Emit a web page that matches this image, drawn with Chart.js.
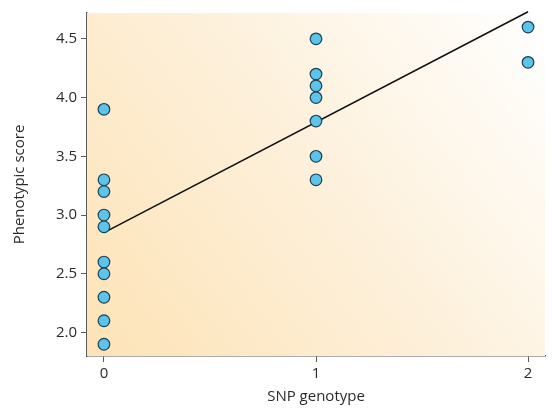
<!DOCTYPE html>
<html>
<head>
<meta charset="utf-8">
<script src="https://cdn.jsdelivr.net/npm/chart.js@4"></script>
<style>
	html, body { margin: 0; padding: 0; background: #fff; }
	#wrap { width: 552px; height: 410px; }
</style>
</head>
<body>
<div id="wrap"><canvas id="chart"></canvas></div>
<script>
const genotypes = [0, 0, 0, 0, 0, 0, 0, 0, 0, 0, 1, 1, 1, 1, 1, 1, 1, 2, 2];
const scores = [3.9, 3.3, 3.2, 3.0, 2.9, 2.6, 2.5, 2.3, 2.1, 1.9, 4.5, 4.2, 4.1, 4.0, 3.8, 3.5, 3.3, 4.6, 4.3];
const fitX = [0, 2];
const fitY = [2.85, 4.73];
const xTicks = [0, 1, 2];
const yTicks = [2.0, 2.5, 3.0, 3.5, 4.0, 4.5];

const axisColor = '#5a5a5a';
const textColor = '#2b2b2b';
const fontFamily = '"Open Sans", "Noto Sans", sans-serif';

const backgroundPlugin = {
	id: 'areaBackground',
	beforeDatasetsDraw(chart) {
		const { ctx, chartArea } = chart;
		const { left, top, right, bottom } = chartArea;
		const grad = ctx.createLinearGradient(left, bottom, right, top);
		grad.addColorStop(0, '#fde3b6');
		grad.addColorStop(0.5, '#fdf0da');
		grad.addColorStop(1, '#ffffff');
		ctx.save();
		ctx.fillStyle = grad;
		ctx.fillRect(left, top, right - left, bottom - top);
		ctx.restore();
	},
};

const points = genotypes.map((g, i) => ({ x: g, y: scores[i] }));
const fitLine = fitX.map((x, i) => ({ x, y: fitY[i] }));

new Chart(document.getElementById('chart'), {
	type: 'scatter',
	data: {
		datasets: [{
			type: 'line',
			data: fitLine,
			borderColor: '#111111',
			borderWidth: 1.6,
			pointRadius: 0,
			fill: false,
			clip: false,
			order: 2,
		}, {
			data: points,
			backgroundColor: '#5cc3ea',
			borderColor: '#1d3f52',
			borderWidth: 1.2,
			pointRadius: 5.8,
			order: 1,
		}],
	},
	plugins: [backgroundPlugin],
	options: {
		responsive: true,
		maintainAspectRatio: false,
		animation: false,
		layout: { padding: { top: 12, right: 7, left: 0, bottom: 0 } },
		plugins: {
			legend: { display: false },
			tooltip: { enabled: false },
		},
		scales: {
			x: {
				type: 'linear',
				min: -0.08,
				max: 2.08,
				afterBuildTicks: (axis) => { axis.ticks = xTicks.map((v) => ({ value: v })); },
				afterFit: (axis) => { axis.height = 54; },
				ticks: {
					color: textColor,
					font: { family: fontFamily, size: 15 },
					padding: 3,
				},
				grid: { drawOnChartArea: false, tickLength: 6, color: axisColor },
				border: { color: axisColor, width: 1.5 },
				title: {
					display: true,
					text: 'SNP genotype',
					color: textColor,
					font: { family: fontFamily, size: 15 },
					padding: { top: 0 },
				},
			},
			y: {
				min: 1.8,
				max: 4.72,
				afterBuildTicks: (axis) => { axis.ticks = yTicks.map((v) => ({ value: v })); },
				afterFit: (axis) => { axis.width = 87; },
				ticks: {
					color: textColor,
					font: { family: fontFamily, size: 15 },
					padding: 4,
					callback: (v) => v.toFixed(1),
				},
				grid: { drawOnChartArea: false, tickLength: 6, color: axisColor },
				border: { color: axisColor, width: 1.5 },
				title: {
					display: true,
					text: 'Phenotypic score',
					color: textColor,
					font: { family: fontFamily, size: 15 },
					padding: { top: 11, bottom: 0 },
				},
			},
		},
	},
});
</script>
</body>
</html>
